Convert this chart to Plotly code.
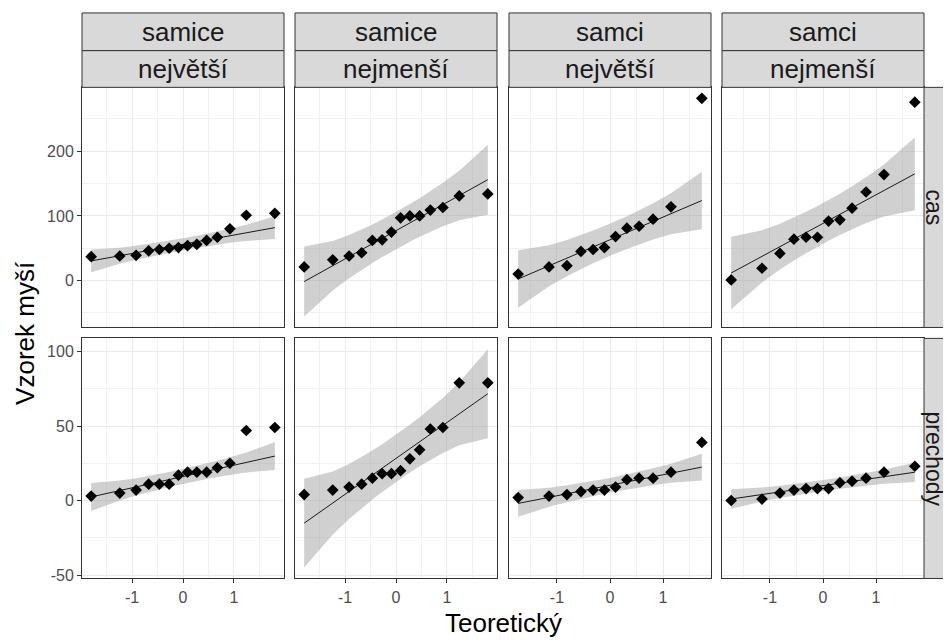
import math
from statistics import NormalDist

import plotly.graph_objects as go

# hodnoty vzorku (serazene), cteno z obrazku
cas_samice_nejvetsi = [37, 38, 39, 46, 48, 50, 51, 54, 56, 62, 67, 80, 101, 104]
cas_samice_nejmensi = [21, 32, 38, 43, 62, 63, 75, 97, 100, 100, 109, 113, 131, 134]
cas_samci_nejvetsi = [10, 21, 23, 45, 48, 51, 68, 81, 84, 95, 114, 282]
cas_samci_nejmensi = [1, 19, 42, 64, 67, 67, 92, 94, 112, 137, 164, 276]
prechody_samice_nejvetsi = [3, 5, 7, 11, 11, 11, 17, 19, 19, 19, 22, 25, 47, 49]
prechody_samice_nejmensi = [4, 7, 9, 11, 15, 18, 18, 20, 28, 34, 48, 49, 79, 79]
prechody_samci_nejvetsi = [2, 3, 4, 6, 7, 7, 9, 14, 15, 15, 19, 39]
prechody_samci_nejmensi = [0, 1, 5, 7, 8, 8, 8, 12, 13, 15, 19, 23]

col_pohlavi = ["samice", "samice", "samci", "samci"]
col_velikost = ["největší", "nejmenší", "největší", "nejmenší"]
row_labels = ["cas", "prechody"]

panels = [
    [cas_samice_nejvetsi, cas_samice_nejmensi, cas_samci_nejvetsi, cas_samci_nejmensi],
    [prechody_samice_nejvetsi, prechody_samice_nejmensi, prechody_samci_nejvetsi, prechody_samci_nejmensi],
]
row_ticks = [[0, 100, 200], [-50, 0, 50, 100]]
row_dtick = [100, 50]
x_ticks = [-1, 0, 1]

OFF = 8  # okraj body stranky
W, H = 951 - OFF, 644 - OFF
col_left = [82, 295, 509, 722]
panel_w = 202
row_top = [88, 341]
panel_h = 242

FONT = "Liberation Sans, Arial, sans-serif"
nd = NormalDist()


def fx(px):
    return (px - OFF) / W


def fy(px):
    return 1 - (px - OFF) / H


def qtile(v, p):
    h = (len(v) - 1) * p
    lo = math.floor(h)
    hi = min(lo + 1, len(v) - 1)
    return v[lo] + (h - lo) * (v[hi] - v[lo])


def qq(vals):
    """teoreticke kvantily, qq primka a bodovy 95% pas (jako qqplotr)"""
    v = sorted(vals)
    n = len(v)
    a = 3 / 8 if n <= 10 else 0.5
    probs = [(i + 1 - a) / (n + 1 - 2 * a) for i in range(n)]
    z = [nd.inv_cdf(p) for p in probs]
    y1, y2 = qtile(v, 0.25), qtile(v, 0.75)
    x1, x2 = nd.inv_cdf(0.25), nd.inv_cdf(0.75)
    slope = (y2 - y1) / (x2 - x1)
    icpt = y1 - slope * x1
    fit = [icpt + slope * t for t in z]
    k = nd.inv_cdf(0.975)
    se = [slope / nd.pdf(t) * math.sqrt(p * (1 - p) / n) for t, p in zip(z, probs)]
    lower = [f - k * s for f, s in zip(fit, se)]
    upper = [f + k * s for f, s in zip(fit, se)]
    return z, v, fit, lower, upper


fig = go.Figure()
res = [[qq(panels[r][c]) for c in range(4)] for r in range(2)]

# rozsahy: y spolecne v radku, x spolecne ve sloupci (+5 %)
y_ranges = []
for r in range(2):
    lo = min(min(min(p[1]), min(p[3])) for p in res[r])
    hi = max(max(max(p[1]), max(p[4])) for p in res[r])
    d = (hi - lo) * 0.05
    y_ranges.append([lo - d, hi + d])
x_ranges = []
for c in range(4):
    lo = min(min(res[r][c][0]) for r in range(2))
    hi = max(max(res[r][c][0]) for r in range(2))
    d = (hi - lo) * 0.05
    x_ranges.append([lo - d, hi + d])

layout_axes = {}
shapes = []
annotations = []

for r in range(2):
    for c in range(4):
        k = r * 4 + c + 1
        z, v, fit, lower, upper = res[r][c]
        xa = "x" if k == 1 else f"x{k}"
        ya = "y" if k == 1 else f"y{k}"

        fig.add_trace(go.Scatter(
            x=z + z[::-1], y=upper + lower[::-1], xaxis=xa, yaxis=ya,
            fill="toself", fillcolor="rgba(150,150,150,0.45)",
            line=dict(width=0), mode="lines", hoverinfo="skip", showlegend=False,
        ))
        fig.add_trace(go.Scatter(
            x=z, y=fit, xaxis=xa, yaxis=ya, mode="lines",
            line=dict(color="#1a1a1a", width=1), showlegend=False,
        ))
        fig.add_trace(go.Scatter(
            x=z, y=v, xaxis=xa, yaxis=ya, mode="markers",
            marker=dict(symbol="diamond", size=9, color="black"), showlegend=False,
        ))

        x0 = col_left[c]
        y0 = row_top[r]
        common = dict(
            showline=True, mirror=True, linecolor="#333333", linewidth=1,
            showgrid=True, gridcolor="#EBEBEB", gridwidth=1, zeroline=False,
            tickfont=dict(family=FONT, size=16, color="#4D4D4D"),
            tickcolor="#333333", ticklen=4,
        )
        layout_axes["xaxis" if k == 1 else f"xaxis{k}"] = dict(
            common,
            domain=[fx(x0), fx(x0 + panel_w)],
            anchor=ya, range=x_ranges[c],
            tickmode="array", tickvals=x_ticks, ticktext=[str(t) for t in x_ticks],
            showticklabels=(r == 1), ticks="outside" if r == 1 else "",
            minor=dict(showgrid=True, tick0=0.5, dtick=1, gridcolor="#F2F2F2", gridwidth=0.6),
        )
        layout_axes["yaxis" if k == 1 else f"yaxis{k}"] = dict(
            common,
            domain=[fy(y0 + panel_h), fy(y0)],
            anchor=xa, range=y_ranges[r],
            tickmode="array", tickvals=row_ticks[r], ticktext=[str(t) for t in row_ticks[r]],
            showticklabels=(c == 0), ticks="outside" if c == 0 else "",
            minor=dict(showgrid=True, tick0=row_dtick[r] / 2, dtick=row_dtick[r],
                       gridcolor="#F2F2F2", gridwidth=0.6),
        )

# horni pasky
strip_rows = [(13, 51), (51, 88)]
for c in range(4):
    x0 = col_left[c]
    for i, (t, b) in enumerate(strip_rows):
        shapes.append(dict(type="rect", xref="paper", yref="paper",
                           x0=fx(x0), x1=fx(x0 + panel_w),
                           y0=fy(b), y1=fy(t),
                           fillcolor="#D9D9D9", line=dict(color="#333333", width=1)))
        label = col_pohlavi[c] if i == 0 else col_velikost[c]
        annotations.append(dict(text=label, xref="paper", yref="paper",
                                x=fx(x0 + panel_w / 2), y=fy((t + b) / 2),
                                showarrow=False, xanchor="center", yanchor="middle",
                                font=dict(family=FONT, size=26, color="#1A1A1A")))

# prave pasky (v originale orizle okrajem obrazku)
sx0 = col_left[3] + panel_w
for r in range(2):
    y0 = row_top[r]
    shapes.append(dict(type="rect", xref="paper", yref="paper",
                       x0=fx(sx0), x1=fx(sx0 + 40),
                       y0=fy(y0 + panel_h), y1=fy(y0),
                       fillcolor="#D9D9D9", line=dict(color="#333333", width=1)))
    annotations.append(dict(text=row_labels[r], xref="paper", yref="paper",
                            x=fx(sx0 + 10), y=fy(y0 + panel_h / 2),
                            textangle=90, showarrow=False,
                            xanchor="center", yanchor="middle",
                            font=dict(family=FONT, size=23, color="#1A1A1A")))

# popisky os
annotations.append(dict(text="Teoretický", xref="paper", yref="paper",
                        x=fx((col_left[0] + col_left[3] + panel_w) / 2), y=fy(628),
                        showarrow=False, xanchor="center", yanchor="middle",
                        font=dict(family=FONT, size=26, color="black")))
annotations.append(dict(text="Vzorek myší", xref="paper", yref="paper",
                        x=fx(25), y=fy((row_top[0] + row_top[1] + panel_h) / 2),
                        textangle=-90, showarrow=False, xanchor="center", yanchor="middle",
                        font=dict(family=FONT, size=26, color="black")))

fig.update_layout(
    width=W, height=H,
    margin=dict(l=0, r=0, t=0, b=0),
    paper_bgcolor="white", plot_bgcolor="white",
    showlegend=False,
    shapes=shapes, annotations=annotations,
    **layout_axes,
)

fig.write_html("out.html")
